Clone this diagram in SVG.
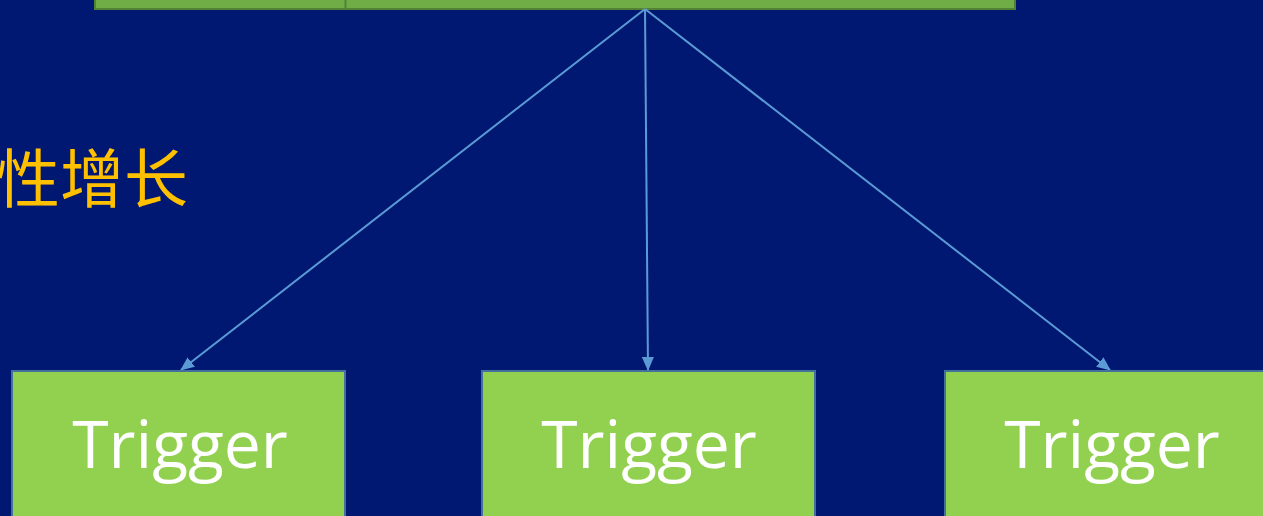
<svg xmlns="http://www.w3.org/2000/svg" width="1263" height="516" viewBox="0 0 1263 516">
  <style>
    .trigger rect { fill: #92D050; stroke: #41719C; stroke-width: 2; }
    .trigger text { fill: #FFFFFF; font-family: "Open Sans", "Noto Sans", sans-serif; font-size: 66px; text-anchor: middle; }
    .edge { stroke: #5B9BD5; stroke-width: 2; fill: none; marker-end: url(#arrow); }
    .caption { fill: #FFC000; font-family: "Noto Sans CJK SC", sans-serif; font-size: 64px; }
  </style>
  <defs>
    <marker id="arrow" viewBox="0 0 14 12" refX="13" refY="6" markerWidth="14" markerHeight="12" markerUnits="userSpaceOnUse" orient="auto">
      <path d="M0,0 L14,6 L0,12 z" fill="#5B9BD5"/>
    </marker>
  </defs>
  <rect width="1263" height="516" fill="#001871"/>

  <g id="source">
    <rect x="95" y="-20" width="920" height="29" fill="#70AD47" stroke="#548235" stroke-width="2"/>
    <line x1="345.5" y1="-20" x2="345.5" y2="9" stroke="#548235" stroke-width="2"/>
  </g>

  <text id="caption" class="caption" x="188" y="202" text-anchor="end">性增长</text>

  <g id="connectors">
    <line class="edge" x1="645" y1="9" x2="181" y2="370"/>
    <line class="edge" x1="645" y1="9" x2="648" y2="370"/>
    <line class="edge" x1="645" y1="9" x2="1110" y2="370"/>
  </g>

  <g id="trigger-1" class="trigger">
    <rect x="12" y="371" width="333" height="160"/>
    <text x="180" y="468">Trigger</text>
  </g>
  <g id="trigger-2" class="trigger">
    <rect x="482" y="371" width="333" height="160"/>
    <text x="649" y="468">Trigger</text>
  </g>
  <g id="trigger-3" class="trigger">
    <rect x="945" y="371" width="340" height="160"/>
    <text x="1112" y="468">Trigger</text>
  </g>
</svg>
